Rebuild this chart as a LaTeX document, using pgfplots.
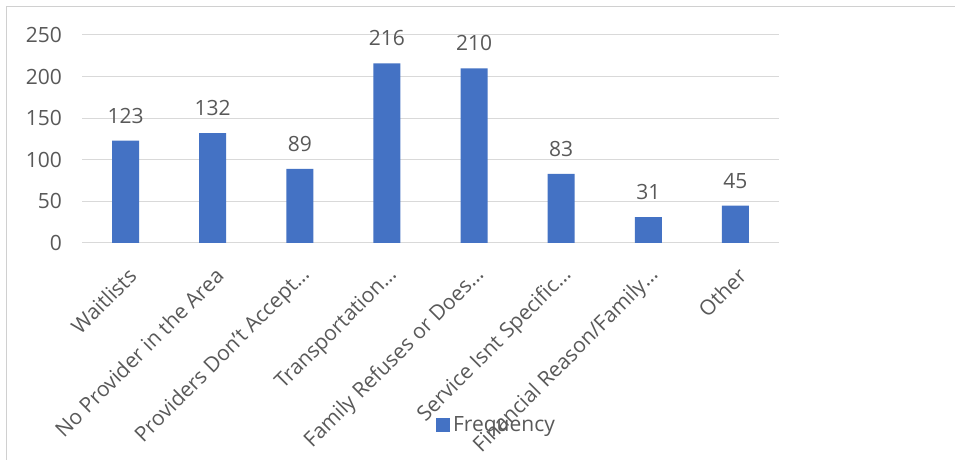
\documentclass[border=0pt]{standalone}
\usepackage{fontspec}
\setmainfont{Open Sans}
\usepackage{pgfplots}
\pgfplotsset{compat=1.18}
\definecolor{barblue}{HTML}{4472C4}
\definecolor{txtgray}{HTML}{595959}
\definecolor{gridgray}{HTML}{D9D9D9}
\definecolor{framegray}{HTML}{D0D0D0}
\newcommand{\cf}{\fontsize{21bp}{25bp}\selectfont}
\begin{document}
\begin{tikzpicture}[x=1bp,y=1bp]
\useasboundingbox (0,0) rectangle (955,460);
\fill[white] (0,0) rectangle (955,460);
\draw[framegray, line width=1bp] (6,0) -- (6,453) -- (955,453);
\begin{axis}[
  at={(82bp,217bp)}, anchor=south west,
  scale only axis, width=697bp, height=208bp,
  xmin=-0.5, xmax=7.5, ymin=0, ymax=250,
  ytick={0,50,100,150,200,250},
  xtick={0,1,2,3,4,5,6,7},
  xticklabels={Waitlists, No Provider in the Area, Providers Don’t Accept…, Transportation…, Family Refuses or Does…, Service Isnt Specific…, Financial Reason/Family…, Other},
  axis line style={draw=none},
  major tick length=0pt,
  ymajorgrids, grid style={gridgray, line width=1bp},
  /pgf/number format/assume math mode=true,
  tick label style={font=\cf, text=txtgray, inner sep=0pt},
  yticklabel style={anchor=east, xshift=-20bp},
  xticklabel style={xshift=7bp, yshift=-29bp, rotate=45, anchor=east},
  ybar, bar width=27bp,
  nodes near coords,
  every node near coord/.append style={font=\cf, text=txtgray, anchor=south, inner sep=0pt, yshift=17bp},
  legend style={at={(0.5954,-0.875)}, anchor=center, draw=none, fill=none, font=\cf, text=txtgray, nodes={inner sep=3bp}},
  legend image code/.code={\fill[barblue] (0bp,-7bp) rectangle (14bp,7bp);},
]
\addplot[fill=barblue, draw=none] coordinates {(0,123) (1,132) (2,89) (3,216) (4,210) (5,83) (6,31) (7,45)};
\addlegendentry{Frequency}
\end{axis}
\end{tikzpicture}
\end{document}
